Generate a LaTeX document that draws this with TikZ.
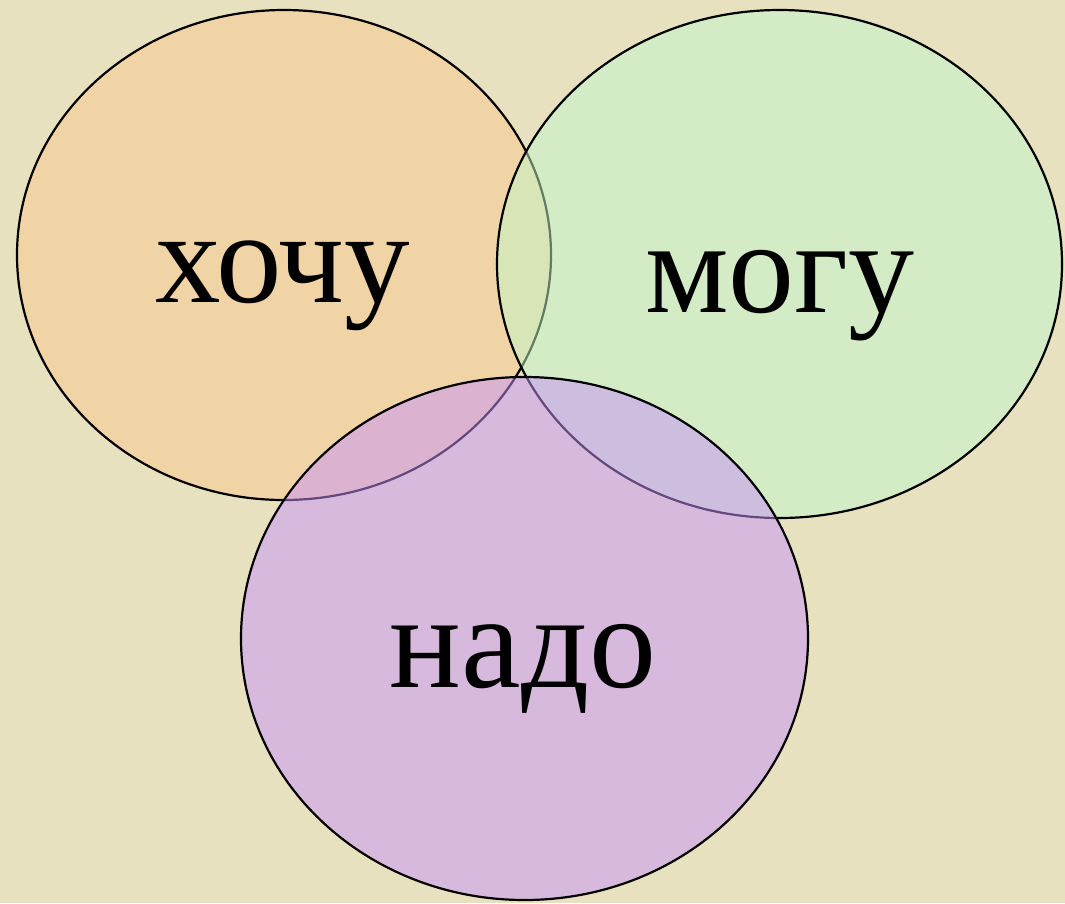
\documentclass[tikz,border=0pt]{standalone}
\usepackage{fontspec}
\setmainfont{Liberation Serif}
\usetikzlibrary{shapes.geometric}
\definecolor{bgc}{RGB}{231,225,192}
\definecolor{orangec}{RGB}{250,200,140}
\definecolor{greenc}{RGB}{194,248,202}
\definecolor{purplec}{RGB}{200,146,250}
\tikzset{
  venn/.style={ellipse, draw=black, line width=2.2pt, inner sep=0pt, outer sep=0pt, fill opacity=0.5},
  word/.style={anchor=base, inner sep=0pt, text=black}
}
\begin{document}
\begin{tikzpicture}[x=1pt,y=-1pt]
\fill[bgc] (0,0) rectangle (1065,903);
\useasboundingbox (0,0) rectangle (1065,903);
\node[venn, fill=orangec, minimum width=534pt, minimum height=490pt] (want) at (284,255) {};
\node[venn, fill=greenc, minimum width=565pt, minimum height=508pt] (can) at (779.5,264) {};
\node[venn, fill=purplec, minimum width=567pt, minimum height=523pt] (must) at (524.5,638.5) {};
\node[word, font=\fontsize{131}{131}\selectfont] (t1) at (283,302) {хочу};
\node[word, font=\fontsize{132}{132}\selectfont] (t2) at (780,312) {могу};
\node[word, font=\fontsize{134}{134}\selectfont] (t3) at (523,687) {надо};
\end{tikzpicture}
\end{document}
